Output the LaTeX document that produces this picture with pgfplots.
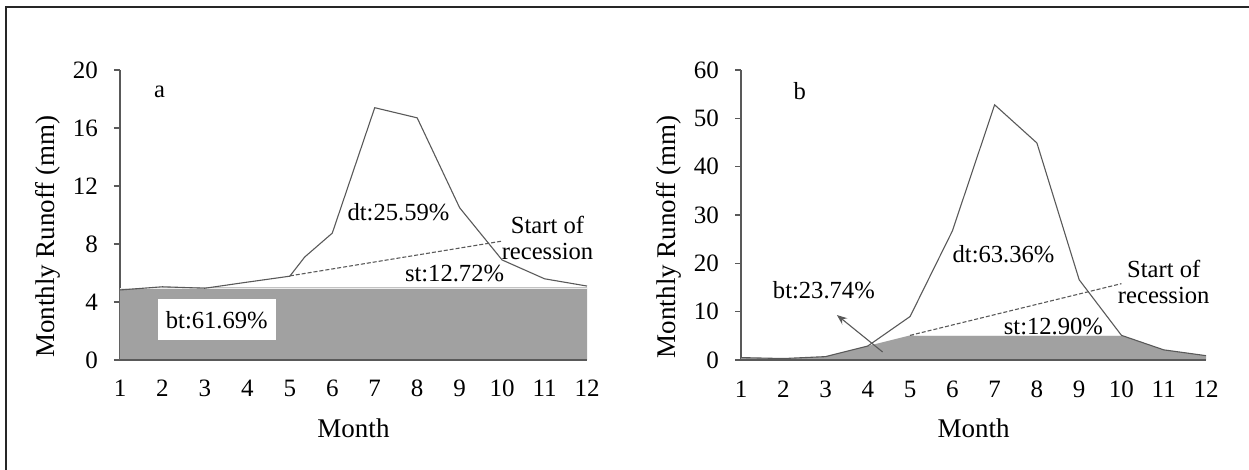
\documentclass[border=0pt]{standalone}
\usepackage{fontspec}
\setmainfont{Liberation Serif}
\usepackage{pgfplots}
\pgfplotsset{compat=1.18}
\usetikzlibrary{arrows.meta}
\definecolor{shade}{gray}{0.63}
\definecolor{ln}{gray}{0.35}
\pgfplotsset{
 mystyle/.style={
  scale only axis,
  clip=false,
  axis x line*=bottom, axis y line*=left,
  xmin=1, xmax=12, ymin=0,
  xtick={1,...,12},
  tick align=outside,
  major tick length=3pt,
  x tick style={draw=none},
  y tick style={ln, line width=0.6pt},
  axis line style={ln, line width=0.6pt},
  tick label style={font=\fontsize{12.5}{14}\selectfont},
  /pgf/number format/assume math mode=true,
  yticklabel style={xshift=-4.5pt},
  xticklabel style={anchor=base, yshift=-15.5pt},
  label style={font=\fontsize{13.5}{15}\selectfont},
  xlabel={Month}, ylabel={Monthly Runoff (mm)},
  xlabel style={at={(axis description cs:0.5,-0.236)}, anchor=center},
  ylabel style={at={(axis description cs:-0.155,0.425)}, anchor=center},
 },
}
\tikzset{ann/.style={font=\fontsize{12.3}{14}\selectfont, inner sep=0pt}}
\begin{document}
\begin{tikzpicture}
\useasboundingbox (0pt,0pt) rectangle (624.5pt,-235pt);
\draw[line width=0.8pt, black!85] (3pt,-235pt) -- (3pt,-3.5pt) -- (624.5pt,-3.5pt);

% Panel a
\begin{axis}[mystyle, at={(60pt,-180pt)}, anchor=south west,
  width=233.5pt, height=145pt, ymax=20, ytick={0,4,...,20}]
\addplot[fill=shade, draw=none] coordinates {(1,4.9)(2,5.0)(3,5.0)(4,5.0)(5,5.0)(6,5.0)(7,5.0)(8,5.0)(9,5.0)(10,5.0)(11,5.0)(12,5.0)} \closedcycle;
\addplot[draw=white!85!gray, line width=0.6pt] coordinates {(1,4.95)(12,4.95)};
\addplot[ln, line width=0.6pt] coordinates {(1,0)(12,0)};
\addplot[ln, line width=0.55pt, dash pattern=on 2pt off 1pt] coordinates {(5,5.8)(10,8.2)};
\addplot[ln, line width=0.55pt] coordinates {(1,4.83)(2,5.05)(3,4.95)(4,5.37)(5,5.78)(5.35,7.1)(6,8.75)(7,17.4)(8,16.7)(9,10.5)(10,6.9)(11,5.6)(12,5.1)};
\node[fill=white, minimum width=58.8pt, minimum height=20.5pt, font=\fontsize{12.3}{14}\selectfont, inner sep=0pt] at (axis cs:3.28,2.78) {bt:61.69\%};
\node[ann] at (axis cs:1.93,18.5) {a};
\node[ann] at (axis cs:7.56,10.2) {dt:25.59\%};
\node[ann] at (axis cs:8.88,6.0) {st:12.72\%};
\node[ann, align=center] at (axis cs:11.07,8.4) {Start of\\[-1pt]recession};
\end{axis}

% Panel b
\begin{axis}[mystyle, at={(370.5pt,-180pt)}, anchor=south west,
  width=232.5pt, height=145pt, ymax=60, ytick={0,10,...,60}]
\addplot[fill=shade, draw=none] coordinates {(1,0.5)(2,0.3)(3,0.7)(4,2.9)(5,5.1)(6,5.1)(7,5.1)(8,5.1)(9,5.1)(10,5.1)(11,2.1)(12,0.9)} \closedcycle;
\addplot[draw=white!85!gray, line width=0.6pt] coordinates {(5.1,5.1)(10,5.1)};
\addplot[ln, line width=0.6pt] coordinates {(1,0)(12,0)};
\addplot[ln, line width=0.55pt, dash pattern=on 2pt off 1pt] coordinates {(5,5.1)(10,15.8)};
\addplot[ln, line width=0.55pt] coordinates {(1,0.5)(2,0.3)(3,0.7)(4,2.9)(5,9.0)(6,26.7)(7,52.8)(8,44.9)(9,16.6)(10,5.1)(11,2.1)(12,0.9)};
\addplot[ln, line width=0.55pt, -{Stealth[length=5pt, width=4pt]}] coordinates {(4.35,1.66)(3.27,9.3)};
\node[ann] at (axis cs:2.39,55.6) {b};
\node[ann] at (axis cs:7.21,21.8) {dt:63.36\%};
\node[ann] at (axis cs:2.96,14.5) {bt:23.74\%};
\node[ann] at (axis cs:8.39,7.0) {st:12.90\%};
\node[ann, align=center] at (axis cs:11.0,16.2) {Start of\\[-1pt]recession};
\end{axis}
\end{tikzpicture}
\end{document}
